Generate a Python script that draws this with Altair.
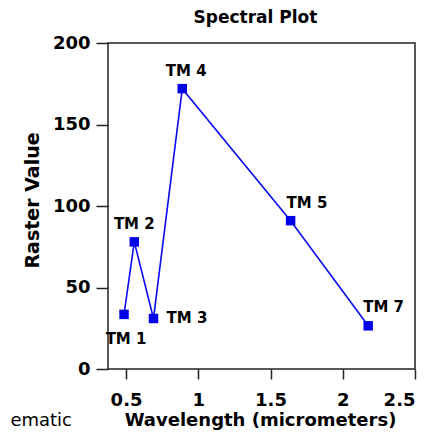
import altair as alt
import pandas as pd

bands = ["TM 1", "TM 2", "TM 3", "TM 4", "TM 5", "TM 7"]
wavelength = [0.486, 0.557, 0.69, 0.889, 1.639, 2.176]
raster_value = [33.5, 78, 31, 172, 91, 26.5]

df = pd.DataFrame({"band": bands, "wl": wavelength, "val": raster_value})

W, H = 307, 326
FONT = "DejaVu Sans"
BLUE = "#0a0af0"

xs = alt.Scale(domain=[0.375, 2.5], nice=False, zero=False)
ys = alt.Scale(domain=[0, 200], nice=False)

base = alt.Chart(df)

line = base.mark_line(color=BLUE, strokeWidth=1.6).encode(
    x=alt.X("wl:Q", scale=xs, title="Wavelength (micrometers)",
            axis=alt.Axis(values=[0.5, 1, 1.5, 2, 2.5], format="~g", tickSize=10,
                          labelPadding=12, titleX=152, titleY=56,
                          titleBaseline="alphabetic", titleAnchor="start", titleAlign="center")),
    y=alt.Y("val:Q", scale=ys, title="Raster Value",
            axis=alt.Axis(values=[0, 50, 100, 150, 200], tickSize=12, labelPadding=6,
                          titleX=-76, titleY=157, titleBaseline="middle",
                          titleAlign="center", titleAngle=-90)),
)

pts = base.mark_square(color="#0000e8", size=90, opacity=1).encode(
    x=alt.X("wl:Q", scale=xs), y=alt.Y("val:Q", scale=ys))

def lab(names, **kw):
    return base.transform_filter(alt.FieldOneOfPredicate(field="band", oneOf=names)).mark_text(
        font=FONT, fontWeight="bold", fontSize=15, color="black", baseline="middle", **kw
    ).encode(x=alt.X("wl:Q", scale=xs), y=alt.Y("val:Q", scale=ys), text="band:N")

labels = [
    lab(["TM 1"], align="center", dx=2, dy=25),
    lab(["TM 2"], align="center", dx=0, dy=-18),
    lab(["TM 3"], align="left", dx=13, dy=0),
    lab(["TM 4"], align="center", dx=4, dy=-18),
    lab(["TM 5"], align="left", dx=-4, dy=-18),
    lab(["TM 7"], align="left", dx=-5, dy=-19),
]

side = alt.Chart(pd.DataFrame({"t": ["ematic"]})).mark_text(
    font=FONT, fontSize=18, color="black", align="right", baseline="middle"
).encode(x=alt.value(-36), y=alt.value(378), text="t:N")

chart = alt.layer(line, pts, *labels, side).properties(
    width=W, height=H,
    autosize="none",
    padding={"left": 100, "top": 35, "right": 21, "bottom": 62},
    title=alt.TitleParams("Spectral Plot", font=FONT, fontSize=17, fontWeight="bold",
                          anchor="middle", offset=7, dx=-6, color="black"),
).configure_view(stroke="#222222", strokeWidth=1.5).configure_axis(
    grid=False, domain=False, tickColor="#222222", tickWidth=1.5,
    labelFont=FONT, labelFontSize=18, labelFontWeight="bold", labelColor="black",
    titleFont=FONT, titleFontSize=18, titleFontWeight="bold", titleColor="black",
).configure_axisY(titleFontSize=19)

chart.save("out.html", embed_options={"renderer": "svg", "actions": False})
